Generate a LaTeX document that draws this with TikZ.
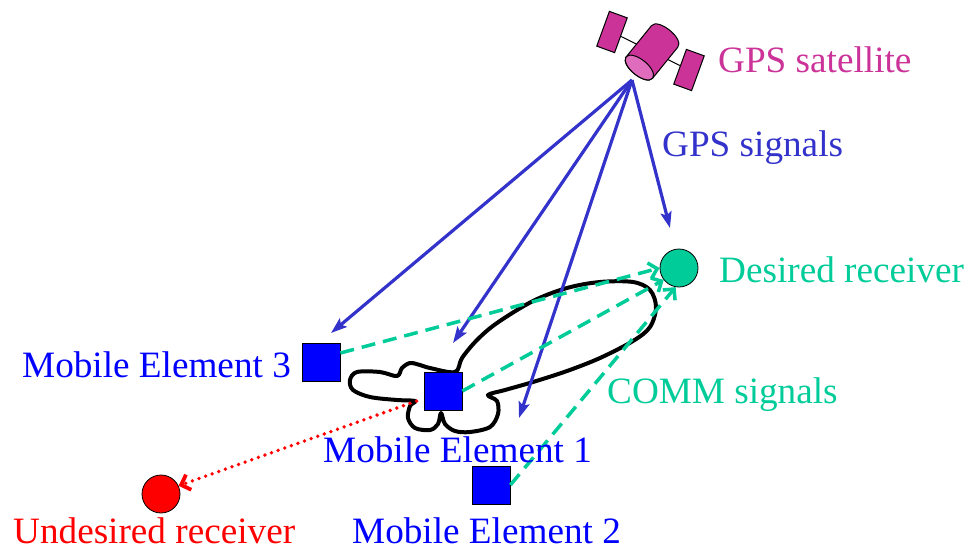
\documentclass[tikz,border=0pt]{standalone}
\usepackage{fontspec}
\setmainfont{Liberation Serif}
\usetikzlibrary{arrows.meta}
\definecolor{satmag}{RGB}{204,51,153}
\definecolor{satlight}{RGB}{224,108,190}
\definecolor{gpsblue}{RGB}{51,51,204}
\definecolor{mobblue}{RGB}{0,0,255}
\definecolor{commgreen}{RGB}{0,204,153}
\definecolor{undred}{RGB}{255,0,0}
\begin{document}
\begin{tikzpicture}[x=1pt,y=-1pt,
  lbl/.style={anchor=base west, inner sep=0pt, font=\fontsize{37.2}{44}\selectfont},
  mobile/.style={draw=black, line width=0.8pt, fill=mobblue, minimum size=38pt, inner sep=0pt},
  rxnode/.style={circle, draw=black, line width=0.8pt, minimum size=38pt, inner sep=0pt},
  panel/.style={draw=black, line width=1pt, fill=satmag, minimum width=19pt, minimum height=37pt, inner sep=0pt, rotate=-20},
  gpsarrow/.style={draw=gpsblue, line width=3.2pt, -{Stealth[length=16pt,width=11pt,inset=3pt]}},
  commarrow/.style={draw=commgreen, line width=3.5pt, dash pattern=on 14pt off 8pt, -{Straight Barb[length=8pt,width=16pt]}},
  leakarrow/.style={draw=undred, line width=3.8pt, line cap=round, dash pattern=on 0pt off 7pt, -{Straight Barb[length=8pt,width=16pt]}},
  beam/.style={draw=black, line width=4pt, line join=round}
]
\useasboundingbox (0,0) rectangle (970,550);

% ---- satellite ----
\coordinate (pl) at (612,32);
\coordinate (pr) at (689,70);
\draw[line width=1pt] (pl) -- (pr);
\node[panel] (panelL) at (pl) {};
\node[panel] (panelR) at (pr) {};
\begin{scope}[shift={(652,52)}, rotate=-39]
  \filldraw[fill=satmag, draw=black, line width=1pt]
    (-17,20) -- (-17,-20) .. controls (-17,-30.7) and (17,-30.7) .. (17,-20)
    -- (17,20) .. controls (17,30.7) and (-17,30.7) .. cycle;
  \filldraw[fill=satlight, draw=black, line width=1pt] (0,20) ellipse [x radius=17pt, y radius=8pt];
\end{scope}
\coordinate (gps) at (632,80);

% ---- antenna beam pattern around element 1 ----
\draw[beam] plot[smooth cycle, tension=0.55] coordinates {
  (455,372) (462,358) (477,340) (497,323) (533,301) (567,288) (600,282) (633,282)
  (650,290) (656,307) (650,327) (633,341) (600,358) (567,371) (533,382) (505,390) (488,395)
  (497,401) (498,414) (490,427) (470,432) (455,431) (445,424) (441,413)
  (438,424) (430,430) (415,428) (408,418) (410,406) (415,401)
  (397,400) (370,397) (353,390) (350,380) (357,372) (380,372) (397,376)
  (402,368) (410,363) (420,365) (430,368)};

% ---- terminals ----
\node[mobile] (me3) at (321,362) {};
\node[mobile] (me1) at (443,391) {};
\node[mobile] (me2) at (491,485) {};
\node[rxnode, fill=commgreen] (rx) at (679,268) {};
\node[rxnode, fill=undred] (urx) at (161,494) {};

% ---- GPS signals ----
\coordinate (t3) at (331,333);
\coordinate (t1) at (453,343);
\coordinate (tb) at (519,418);
\coordinate (trx) at (670,228);
\draw[gpsarrow] (gps) -- (t3);
\draw[gpsarrow] (gps) -- (t1);
\draw[gpsarrow] (gps) -- (tb);
\draw[gpsarrow] (gps) -- (trx);

% ---- COMM signals ----
\draw[commarrow] ([yshift=9pt]me3.east) -- (rx.west);
\draw[commarrow] (me1.east) -- (rx.218);
\draw[commarrow] (me2.east) -- (rx.260);

% ---- leakage toward the undesired receiver ----
\draw[leakarrow] ([xshift=-7pt,yshift=-10pt]me1.west) -- (urx.25);

% ---- labels ----
\node[lbl, text=satmag] (lsat) at (718,72) {GPS satellite};
\node[lbl, text=gpsblue] (lgps) at (662,156) {GPS signals};
\node[lbl, text=commgreen] (lrx) at (719,282) {Desired receiver};
\node[lbl, text=commgreen] (lcomm) at (607,403) {COMM signals};
\node[lbl, text=mobblue] (lme3) at (22,377) {Mobile Element 3};
\node[lbl, text=mobblue] (lme1) at (323,462) {Mobile Element 1};
\node[lbl, text=mobblue] (lme2) at (352,543) {Mobile Element 2};
\node[lbl, text=undred] (lurx) at (13,543) {Undesired receiver};
\end{tikzpicture}
\end{document}
